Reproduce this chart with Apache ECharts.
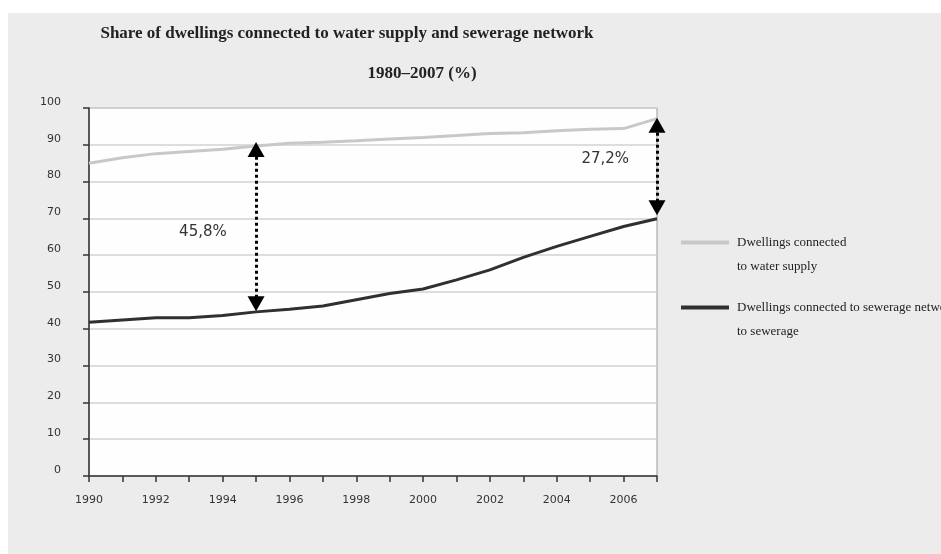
<!DOCTYPE html>
<html>
<head>
<meta charset="utf-8">
<script src="https://cdn.jsdelivr.net/npm/echarts@6/dist/echarts.min.js"></script>
<style>
html,body{margin:0;padding:0;background:#fff;}
#main{width:941px;height:554px;}
</style>
</head>
<body>
<div id="main"></div>
<script>
var years = ['1990','1991','1992','1993','1994','1995','1996','1997','1998','1999','2000','2001','2002','2003','2004','2005','2006','2007'];
var waterSupply = [85.0, 86.5, 87.6, 88.2, 88.8, 89.7, 90.4, 90.7, 91.1, 91.6, 92.0, 92.5, 93.1, 93.3, 93.8, 94.2, 94.4, 97.1];
var sewerage = [41.8, 42.4, 43.0, 43.0, 43.6, 44.6, 45.3, 46.2, 47.9, 49.6, 50.8, 53.3, 56.0, 59.4, 62.4, 65.1, 67.8, 69.9];
var yTicks = {min: 0, max: 100, interval: 10};
var gap1995 = {year: '1995', from: 46.8, to: 88.7, label: '45,8%'};
var gap2007 = {year: '2007', from: 72.9, to: 95.3, label: '27,2%'};

var chart = echarts.init(document.getElementById('main'), null, {renderer: 'canvas'});

var arrowLine = {
  silent: true,
  symbol: ['triangle', 'triangle'],
  symbolSize: [17, 15],
  label: {show: false},
  lineStyle: {color: '#000', width: 3, type: 'dotted'},
  itemStyle: {color: '#000'},
  emphasis: {disabled: true},
  data: [
    [{coord: [gap1995.year, gap1995.from]}, {coord: [gap1995.year, gap1995.to]}],
    [{coord: [gap2007.year, gap2007.from]}, {coord: [gap2007.year, gap2007.to]}]
  ]
};

var option = {
  backgroundColor: '#fff',
  animation: false,
  title: [
    {text: 'Share of dwellings connected to water supply and sewerage network', left: 342, top: 20, textAlign: 'center',
     textStyle: {fontFamily: 'Liberation Serif', fontWeight: 'bold', fontSize: 17, color: '#222'}},
    {text: '1980\u20132007 (%)', left: 417, top: 60, textAlign: 'center',
     textStyle: {fontFamily: 'Liberation Serif', fontWeight: 'bold', fontSize: 17, color: '#222'}}
  ],
  legend: {
    orient: 'vertical',
    left: 681,
    top: 236,
    padding: 0,
    itemGap: 52,
    itemWidth: 48,
    itemHeight: 4,
    icon: 'rect',
    selectedMode: false,
    textStyle: {fontFamily: 'Liberation Serif', fontSize: 13, color: '#222', lineHeight: 14, padding: [-3, 0, 0, 3]},
    data: ['Dwellings connected', 'Dwellings connected to sewerage network']
  },
  grid: {
    left: 89, right: 284, top: 108, bottom: 78,
    show: true, backgroundColor: '#fefefe', borderColor: '#9a9a9a', borderWidth: 1
  },
  xAxis: {
    type: 'category',
    data: years,
    boundaryGap: false,
    axisLine: {lineStyle: {color: '#333', width: 1.5}},
    axisTick: {show: true, interval: 0, length: 6, lineStyle: {color: '#333', width: 1.5}},
    axisLabel: {interval: 1, margin: 19, fontFamily: 'DejaVu Sans', fontSize: 11, color: '#333'},
    splitLine: {show: false}
  },
  yAxis: {
    type: 'value',
    min: yTicks.min, max: yTicks.max, interval: yTicks.interval,
    axisLine: {show: true, lineStyle: {color: '#333', width: 1.5}},
    axisTick: {show: true, length: 6, lineStyle: {color: '#333', width: 1.5}},
    axisLabel: {margin: 28, fontFamily: 'DejaVu Sans', fontSize: 11, color: '#333', verticalAlign: 'bottom', lineHeight: 12},
    splitLine: {show: true, lineStyle: {color: '#d2d2d2', width: 1.5}}
  },
  series: [
    {
      name: 'Dwellings connected',
      type: 'line',
      data: waterSupply,
      symbol: 'none',
      color: '#c8c8c8',
      lineStyle: {color: '#c8c8c8', width: 3},
      z: 3
    },
    {
      name: 'Dwellings connected to sewerage network',
      type: 'line',
      data: sewerage,
      symbol: 'none',
      color: '#303030',
      lineStyle: {color: '#303030', width: 3},
      markLine: arrowLine,
      z: 4
    }
  ]
};

chart.setOption(option);

function pixelAt(idx, val) {
  var i0 = Math.floor(idx);
  var a = chart.convertToPixel({gridIndex: 0}, [i0, val]);
  var b = chart.convertToPixel({gridIndex: 0}, [i0 + 1, val]);
  var f = idx - i0;
  return [a[0] + (b[0] - a[0]) * f, a[1]];
}
var p1 = pixelAt(3.41, 66.4);
var p2 = pixelAt(15.45, 86.2);
chart.setOption({
  graphic: [
    {type: 'rect', z: -10, shape: {x: 8, y: 13, width: 933, height: 541}, style: {fill: '#ececec'}},
    {type: 'text', x: p1[0], y: p1[1], style: {text: gap1995.label, fontFamily: 'DejaVu Sans', fontSize: 15, fill: '#333', align: 'center', verticalAlign: 'middle'}},
    {type: 'text', x: p2[0], y: p2[1], style: {text: gap2007.label, fontFamily: 'DejaVu Sans', fontSize: 15, fill: '#333', align: 'center', verticalAlign: 'middle'}},
    {type: 'text', x: 737, y: 267, style: {text: 'to water supply', fontFamily: 'Liberation Serif', fontSize: 13, fill: '#222', align: 'left', verticalAlign: 'middle'}},
    {type: 'text', x: 737, y: 332, style: {text: 'to sewerage', fontFamily: 'Liberation Serif', fontSize: 13, fill: '#222', align: 'left', verticalAlign: 'middle'}}
  ]
});
</script>
</body>
</html>
